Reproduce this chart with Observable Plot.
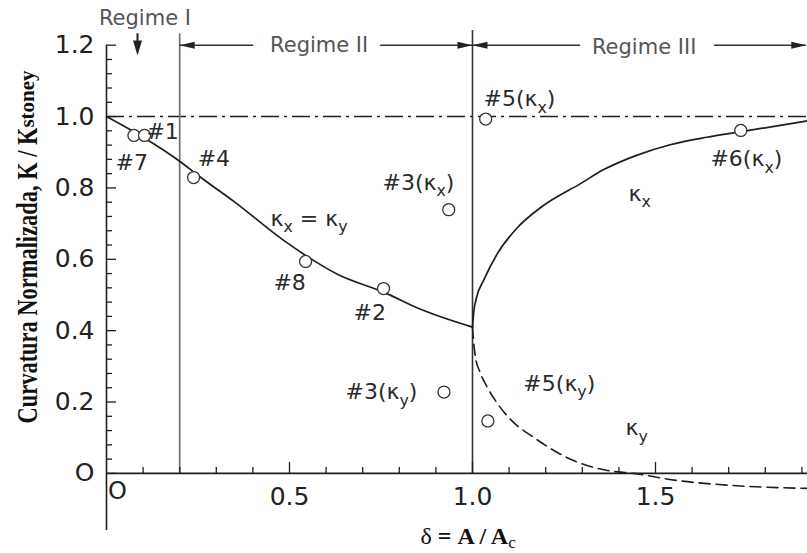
<!DOCTYPE html>
<html>
<head>
<meta charset="utf-8">
<script src="https://cdn.jsdelivr.net/npm/d3@7"></script>
<script src="https://cdn.jsdelivr.net/npm/@observablehq/plot@0.6"></script>
<style>
  html, body { margin: 0; padding: 0; background: #fff; }
  svg { display: block; }
</style>
</head>
<body>
<div id="chart"></div>
<script>
// Normalized curvature K / K_stoney as a function of δ = A / A_c

// Regime II: uniform curvature (κx = κy)
const uniformDelta = [0, 0.1, 0.197, 0.257, 0.347, 0.484, 0.544, 0.631, 0.757, 0.858, 1.0];
const uniformK     = [1.0, 0.942, 0.877, 0.83, 0.763, 0.653, 0.611, 0.558, 0.508, 0.46, 0.41];

// Regime III: bifurcated branches
const kxDelta = [1.0, 1.003, 1.011, 1.03, 1.068, 1.123, 1.19, 1.295, 1.36, 1.45, 1.54, 1.64, 1.73, 1.82, 1.915];
const kxK     = [0.41, 0.448, 0.493, 0.54, 0.616, 0.689, 0.748, 0.812, 0.852, 0.892, 0.921, 0.942, 0.957, 0.972, 0.988];
const kyDelta = [1.0, 1.003, 1.008, 1.02, 1.04, 1.068, 1.11, 1.167, 1.276, 1.369, 1.44, 1.56, 1.713, 1.915];
const kyK     = [0.41, 0.37, 0.326, 0.285, 0.242, 0.196, 0.145, 0.101, 0.036, 0.008, 0.0, -0.02, -0.034, -0.042];

// Measured samples
const sampleDelta = [0.075, 0.104, 0.238, 0.544, 0.757, 0.935, 0.922, 1.036, 1.042, 1.733];
const sampleK     = [0.947, 0.947, 0.829, 0.594, 0.518, 0.739, 0.228, 0.993, 0.147, 0.961];

// Annotations ("_x" marks a subscript)
const noteText  = ["#7", "#1", "#4", "κ_x = κ_y", "#8", "#2", "#3(κ_x)", "#3(κ_y)", "#5(κ_x)", "#5(κ_y)", "#6(κ_x)", "κ_x", "κ_y"];
const noteDelta = [0.0246, 0.109, 0.249, 0.448, 0.456, 0.675, 0.754, 0.653, 1.030, 1.139, 1.650, 1.426, 1.418];
const noteK     = [0.871, 0.958, 0.881, 0.714, 0.534, 0.450, 0.815, 0.227, 1.048, 0.252, 0.880, 0.784, 0.126];

// Regimes
const regimeNames      = ["Regime I", "Regime II", "Regime III"];
const regimeLabelDelta = [0.105, 0.581, 1.469];
const regimeLabelK     = [1.276, 1.200, 1.195];
const regimeFrom       = [0.2, 1.0];      // Regime II, III brackets
const regimeTo         = [1.0, 1.912];
const regimeGapFrom    = [0.402, 1.295];  // text gap in each bracket
const regimeGapTo      = [0.749, 1.661];
const regimeOneDelta   = 0.0847;

// Axis ticks
const yTickValues = [0, 0.2, 0.4, 0.6, 0.8, 1.0, 1.2];
const yTickLabels = ["O", "0.2", "0.4", "0.6", "0.8", "1.0", "1.2"];
const xTickValues = [0.5, 1.0, 1.5];
const xTickLabels = ["0.5", "1.0", "1.5"];
const originLabel = "O";

const yTitle = "Curvatura Normalizada, K / K";
const yTitleSub = "stoney";
const xTitleParts = [
  {text: "δ", weight: "normal"},
  {text: " = A / A"},
  {text: "c", sub: true, weight: "normal"}
];
const xTitle = xTitleParts.map(p => p.text).join("");

// ---- derived tables ----
const pts = (xs, ys) => xs.map((x, i) => ({delta: x, k: ys[i]}));
const uniform = pts(uniformDelta, uniformK);
const kx = pts(kxDelta, kxK);
const ky = pts(kyDelta, kyK);
const samples = pts(sampleDelta, sampleK);
const notes = noteText.map((t, i) => ({text: t, delta: noteDelta[i], k: noteK[i]}));
const regimeLabels = regimeNames.map((n, i) => ({text: n, delta: regimeLabelDelta[i], k: regimeLabelK[i]}));
const bracketSegs = regimeFrom.flatMap((f, i) => [
  {x1: f, x2: regimeGapFrom[i]},
  {x1: regimeGapTo[i], x2: regimeTo[i]}
]);
const yTicks = yTickValues.map((v, i) => ({v, label: yTickLabels[i]}));
const xTicks = xTickValues.map((v, i) => ({v, label: xTickLabels[i]}));

const xMax = 1.9153;
const arrowLevel = 1.2;
const minorY = d3.range(31).map(i => +(i * 0.04).toFixed(2));
const minorX = d3.range(1, 20).map(i => i / 10);
const isMajorY = v => Math.abs(v / 0.2 - Math.round(v / 0.2)) < 1e-6;
const isMajorX = v => Math.abs(v / 0.5 - Math.round(v / 0.5)) < 1e-6;

// filled arrowheads, tip at the anchor point
const headRight = {draw(c) { c.moveTo(0, 0); c.lineTo(-15, -3.5); c.lineTo(-15, 3.5); c.closePath(); }};
const headLeft  = {draw(c) { c.moveTo(0, 0); c.lineTo(15, -3.5); c.lineTo(15, 3.5); c.closePath(); }};
const headDown  = {draw(c) { c.moveTo(0, 0); c.lineTo(-4.5, -15); c.lineTo(4.5, -15); c.closePath(); }};

const ink = "#1e1e1e";
const sans = "DejaVu Sans";
const serif = "Liberation Serif";

const svg = Plot.plot({
  width: 807,
  height: 553,
  marginLeft: 106,
  marginRight: 0,
  marginTop: 9,
  marginBottom: 23,
  x: {domain: [0, xMax], axis: null},
  y: {domain: [-0.16, 1.30], axis: null},
  style: {background: "white", fontFamily: sans, overflow: "visible"},
  marks: [
    // reference level K = K_stoney
    Plot.ruleY([1], {x1: 0, x2: xMax, stroke: ink, strokeWidth: 1.5, strokeDasharray: "18,5,3,5"}),
    // regime boundaries
    Plot.ruleX([regimeFrom[0]], {y1: 0, y2: 1.232, stroke: "#707070", strokeWidth: 1.7}),
    Plot.ruleX([regimeFrom[1]], {y1: 0, y2: 1.241, stroke: "#333", strokeWidth: 1.6}),
    // axes
    Plot.ruleX([0], {y1: -0.16, y2: 1.2, stroke: ink, strokeWidth: 1.6}),
    Plot.ruleY([0], {x1: 0, x2: xMax, stroke: ink, strokeWidth: 1.6}),
    Plot.ruleY(minorY, {y: d => d, x1: 0, x2: d => (isMajorY(d) ? 10 : 6) / 366, stroke: ink, strokeWidth: 1.3}),
    Plot.ruleX(minorX, {x: d => d, y1: 0, y2: d => (isMajorX(d) ? 11 : 6) / 357, stroke: ink, strokeWidth: 1.3}),
    // curves
    Plot.line(uniform, {x: "delta", y: "k", curve: "monotone-x", stroke: ink, strokeWidth: 1.7}),
    Plot.line(kx, {x: "delta", y: "k", curve: "monotone-x", stroke: ink, strokeWidth: 1.7}),
    Plot.line(ky, {x: "delta", y: "k", curve: "monotone-x", stroke: ink, strokeWidth: 1.6, strokeDasharray: "11,6"}),
    // samples
    Plot.dot(samples, {x: "delta", y: "k", r: 6, fill: "white", stroke: "#333", strokeWidth: 1.3}),
    Plot.text(notes, {x: "delta", y: "k", text: "text", textAnchor: "start", fontSize: 22, fill: "#2a2a2a", fontFamily: sans}),
    // regime brackets
    Plot.ruleY(bracketSegs, {y: arrowLevel, x1: "x1", x2: "x2", stroke: "#333", strokeWidth: 1.5}),
    Plot.dot(regimeFrom, {x: d => d, y: arrowLevel, symbol: headLeft, fill: "#222", stroke: "none"}),
    Plot.dot(regimeTo, {x: d => d, y: arrowLevel, symbol: headRight, fill: "#222", stroke: "none"}),
    Plot.ruleX([regimeOneDelta], {y1: 1.232, y2: 1.19, stroke: "#222", strokeWidth: 2}),
    Plot.dot([regimeOneDelta], {x: d => d, y: 1.171, symbol: headDown, fill: "#222", stroke: "none"}),
    Plot.text(regimeLabels, {x: "delta", y: "k", text: "text", fontSize: 21, fill: "#555", fontFamily: sans}),
    // tick labels
    Plot.text(yTicks, {x: 0, y: "v", text: "label", textAnchor: "end", dx: -12, fontSize: 25, fill: "#222", fontFamily: sans}),
    Plot.text(xTicks, {x: "v", y: 0, text: "label", dy: 24, fontSize: 25, fill: "#222", fontFamily: sans}),
    Plot.text([originLabel], {x: 0, y: 0, text: d => d, dx: 11, dy: 18, fontSize: 24, fill: "#222", fontFamily: sans}),
    // axis titles
    Plot.text([yTitle], {x: -0.2172, y: 0.140, text: d => d, rotate: -90, textAnchor: "start",
      fontFamily: serif, fontWeight: "bold", fontSize: 30, fill: "#111"}),
    Plot.text([yTitleSub], {x: -0.2172, y: 0.969, text: d => d, rotate: -90, textAnchor: "start",
      fontFamily: serif, fontWeight: "bold", fontSize: 21, fill: "#111"}),
    Plot.text([xTitle], {x: 0.858, y: -0.175, text: d => d, textAnchor: "start",
      fontFamily: serif, fontWeight: "bold", fontSize: 24, fill: "#111"})
  ]
});

document.getElementById("chart").append(svg);

// rich text: subscripts and weight changes as tspans
function parseSub(s) {
  return s.split(/(_\{[^}]*\}|_.)/).filter(Boolean).map(p =>
    p.startsWith("_") ? {text: p.replace(/^_\{?|\}$/g, ""), sub: true} : {text: p});
}
function setRich(el, segments, fs, shift = 0.28) {
  while (el.firstChild) el.removeChild(el.firstChild);
  let shifted = false;
  for (const seg of segments) {
    const t = d3.select(el).append("tspan").text(seg.text);
    if (seg.weight) t.attr("font-weight", seg.weight);
    if (seg.sub) {
      t.attr("font-size", fs * 0.72);
      if (!shifted) t.attr("dy", fs * shift);
      shifted = true;
    } else if (shifted) {
      t.attr("dy", -fs * shift);
      shifted = false;
    }
  }
}
d3.select(svg).selectAll("text").each(function () {
  const s = this.textContent;
  const fs = parseFloat(getComputedStyle(this).fontSize);
  if (s === xTitle) setRich(this, xTitleParts, fs, 0.18);
  else if (s === yTitle) {
    this.setAttribute("textLength", 296);
    this.setAttribute("lengthAdjust", "spacingAndGlyphs");
  } else if (s.includes("_")) setRich(this, parseSub(s), fs);
});
</script>
</body>
</html>
